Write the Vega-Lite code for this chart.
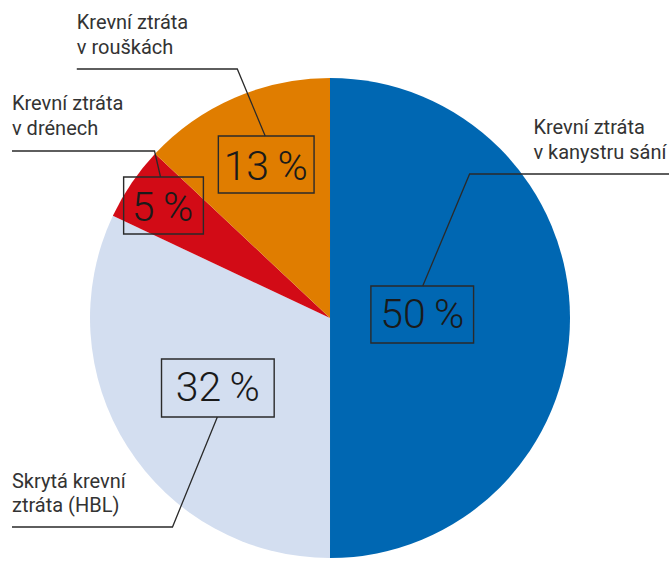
{
  "$schema": "https://vega.github.io/schema/vega-lite/v6.json",
  "width": 672,
  "height": 562,
  "autosize": {"type": "fit", "contains": "padding"},
  "padding": 0,
  "background": "white",
  "view": {"stroke": null},
  "config": {"axis": {"disable": true}},
  "datasets": {
    "slices": [
      {"category": "Krevní ztráta v kanystru sání", "value": 50, "idx": 1},
      {"category": "Skrytá krevní ztráta (HBL)", "value": 32, "idx": 2},
      {"category": "Krevní ztráta v drénech", "value": 5, "idx": 3},
      {"category": "Krevní ztráta v rouškách", "value": 13, "idx": 4}
    ],
    "boxes": [
      {"label": "50\u2009%", "x1": 372, "x2": 475, "y1": 286, "y2": 343, "tx": 423.5, "ty": 328},
      {"label": "32\u2009%", "x1": 162, "x2": 275, "y1": 359, "y2": 417, "tx": 218.5, "ty": 401},
      {"label": "5\u2009%", "x1": 124, "x2": 204, "y1": 177, "y2": 234, "tx": 163, "ty": 221},
      {"label": "13\u2009%", "x1": 219, "x2": 315, "y1": 136, "y2": 193, "tx": 266.5, "ty": 180}
    ],
    "leaders": [
      {"id": "A", "o": 1, "x": 77, "y": 69},
      {"id": "A", "o": 2, "x": 238, "y": 69},
      {"id": "A", "o": 3, "x": 266, "y": 136},
      {"id": "B", "o": 1, "x": 12, "y": 151},
      {"id": "B", "o": 2, "x": 155, "y": 151},
      {"id": "B", "o": 3, "x": 161, "y": 177},
      {"id": "C", "o": 1, "x": 671, "y": 174},
      {"id": "C", "o": 2, "x": 471, "y": 174},
      {"id": "C", "o": 3, "x": 424, "y": 286},
      {"id": "D", "o": 1, "x": 12, "y": 527},
      {"id": "D", "o": 2, "x": 173, "y": 527},
      {"id": "D", "o": 3, "x": 218, "y": 417}
    ],
    "labels": [
      {"text": "Krevní ztráta", "x": 77, "y": 29},
      {"text": "v rouškách", "x": 77, "y": 54},
      {"text": "Krevní ztráta", "x": 12, "y": 110},
      {"text": "v drénech", "x": 12, "y": 135},
      {"text": "Krevní ztráta", "x": 535, "y": 134},
      {"text": "v kanystru sání", "x": 535, "y": 159},
      {"text": "Skrytá krevní", "x": 12, "y": 488},
      {"text": "ztráta (HBL)", "x": 12, "y": 512}
    ]
  },
  "layer": [
    {
      "data": {"name": "slices"},
      "mark": {"type": "arc", "outerRadius": 240, "stroke": null},
      "encoding": {
        "x": {"datum": 331, "type": "quantitative", "scale": {"domain": [0, 672], "nice": false, "zero": false}},
        "y": {"datum": 318, "type": "quantitative", "scale": {"domain": [0, 562], "nice": false, "zero": false, "reverse": true}},
        "theta": {"field": "value", "type": "quantitative", "stack": true},
        "order": {"field": "idx", "type": "quantitative"},
        "color": {
          "field": "category",
          "type": "nominal",
          "scale": {
            "domain": ["Krevní ztráta v kanystru sání", "Skrytá krevní ztráta (HBL)", "Krevní ztráta v drénech", "Krevní ztráta v rouškách"],
            "range": ["#0067B2", "#D3DEF0", "#D20B16", "#E07D00"]
          },
          "legend": null
        }
      }
    },
    {
      "data": {"name": "leaders"},
      "mark": {"type": "line", "color": "#2a2a2a", "strokeWidth": 1.3},
      "encoding": {
        "x": {"field": "x", "type": "quantitative", "scale": {"domain": [0, 672], "nice": false, "zero": false}},
        "y": {"field": "y", "type": "quantitative", "scale": {"domain": [0, 562], "nice": false, "zero": false, "reverse": true}},
        "detail": {"field": "id"},
        "order": {"field": "o", "type": "quantitative"}
      }
    },
    {
      "data": {"name": "boxes"},
      "mark": {"type": "rect", "fill": null, "fillOpacity": 0, "stroke": "#2a2a2a", "strokeWidth": 1.4},
      "encoding": {
        "x": {"field": "x1", "type": "quantitative", "scale": {"domain": [0, 672], "nice": false, "zero": false}},
        "x2": {"field": "x2"},
        "y": {"field": "y1", "type": "quantitative", "scale": {"domain": [0, 562], "nice": false, "zero": false, "reverse": true}},
        "y2": {"field": "y2"}
      }
    },
    {
      "data": {"name": "boxes"},
      "mark": {"type": "text", "font": "Roboto", "fontSize": 41, "fontWeight": 300, "align": "center", "baseline": "alphabetic", "color": "#1a1a1a"},
      "encoding": {
        "x": {"field": "tx", "type": "quantitative", "scale": {"domain": [0, 672], "nice": false, "zero": false}},
        "y": {"field": "ty", "type": "quantitative", "scale": {"domain": [0, 562], "nice": false, "zero": false, "reverse": true}},
        "text": {"field": "label"}
      }
    },
    {
      "data": {"name": "labels"},
      "mark": {"type": "text", "font": "Roboto", "fontSize": 20, "fontWeight": 400, "align": "left", "baseline": "alphabetic", "color": "#333333"},
      "encoding": {
        "x": {"field": "x", "type": "quantitative", "scale": {"domain": [0, 672], "nice": false, "zero": false}},
        "y": {"field": "y", "type": "quantitative", "scale": {"domain": [0, 562], "nice": false, "zero": false, "reverse": true}},
        "text": {"field": "text"}
      }
    }
  ]
}
